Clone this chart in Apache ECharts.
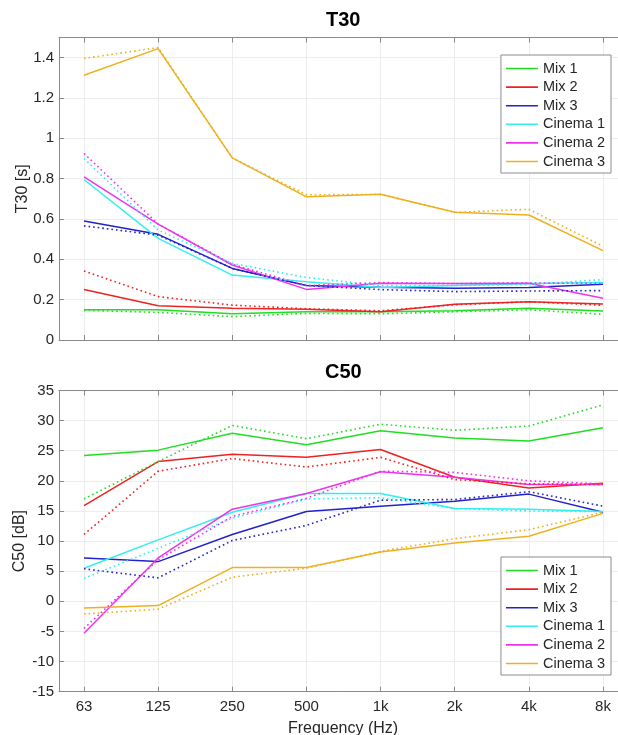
<!DOCTYPE html>
<html>
<head>
<meta charset="utf-8">
<script src="https://cdn.jsdelivr.net/npm/echarts@6/dist/echarts.min.js"></script>
<style>
html,body{margin:0;padding:0;background:#fff;}
#chart{width:618px;height:735px;}
</style>
</head>
<body>
<div id="chart"></div>
<script>
// ---- data ----
const freqLabels = ['63', '125', '250', '500', '1k', '2k', '4k', '8k'];
const seriesNames = ['Mix 1', 'Mix 2', 'Mix 3', 'Cinema 1', 'Cinema 2', 'Cinema 3'];
const seriesColors = ['#22dd22', '#ee2222', '#2222cc', '#33eeee', '#ee33ee', '#EDB120'];

// T30 [s] – solid lines
const t30Mix1 = [0.150, 0.150, 0.130, 0.140, 0.140, 0.145, 0.157, 0.144];
const t30Mix2 = [0.250, 0.170, 0.157, 0.152, 0.140, 0.177, 0.190, 0.178];
const t30Mix3 = [0.590, 0.524, 0.355, 0.270, 0.261, 0.257, 0.260, 0.277];
const t30Cin1 = [0.796, 0.504, 0.322, 0.289, 0.260, 0.270, 0.280, 0.285];
const t30Cin2 = [0.809, 0.575, 0.372, 0.251, 0.281, 0.280, 0.281, 0.207];
const t30Cin3 = [1.313, 1.445, 0.903, 0.710, 0.723, 0.633, 0.620, 0.443];
// T30 [s] – dotted lines
const t30Mix1b = [0.147, 0.137, 0.116, 0.132, 0.130, 0.140, 0.150, 0.127];
const t30Mix2b = [0.342, 0.215, 0.173, 0.155, 0.145, 0.175, 0.190, 0.172];
const t30Mix3b = [0.566, 0.520, 0.355, 0.270, 0.250, 0.240, 0.243, 0.245];
const t30Cin1b = [0.900, 0.545, 0.380, 0.310, 0.270, 0.270, 0.275, 0.300];
const t30Cin2b = [0.925, 0.575, 0.375, 0.270, 0.285, 0.280, 0.283, 0.280];
const t30Cin3b = [1.396, 1.450, 0.903, 0.720, 0.722, 0.633, 0.648, 0.465];

// C50 [dB] – solid lines
const c50Mix1 = [24.2, 25.1, 27.9, 26.0, 28.3, 27.1, 26.6, 28.8];
const c50Mix2 = [15.9, 23.2, 24.4, 23.9, 25.2, 20.6, 18.8, 19.6];
const c50Mix3 = [7.2, 6.6, 11.1, 14.9, 15.8, 16.6, 17.8, 14.8];
const c50Cin1 = [5.5, 10.2, 14.8, 17.9, 17.9, 15.4, 15.3, 14.9];
const c50Cin2 = [-5.3, 7.2, 15.3, 17.9, 21.5, 20.6, 19.4, 19.4];
const c50Cin3 = [-1.1, -0.7, 5.6, 5.6, 8.2, 9.7, 10.8, 14.6];
// C50 [dB] – dotted lines
const c50Mix1b = [17.0, 23.2, 29.2, 27.0, 29.4, 28.4, 29.1, 32.6];
const c50Mix2b = [11.1, 21.6, 23.7, 22.3, 23.9, 20.2, 19.5, 19.4];
const c50Mix3b = [5.4, 3.9, 10.1, 12.6, 16.8, 16.9, 18.2, 15.8];
const c50Cin1b = [3.8, 8.8, 13.8, 17.0, 17.2, 15.4, 15.0, 14.9];
const c50Cin2b = [-4.5, 6.9, 14.1, 17.1, 21.6, 21.4, 20.0, 19.5];
const c50Cin3b = [-2.1, -1.3, 4.0, 5.5, 8.3, 10.4, 11.9, 14.8];

const t30Solid = [t30Mix1, t30Mix2, t30Mix3, t30Cin1, t30Cin2, t30Cin3];
const t30Dotted = [t30Mix1b, t30Mix2b, t30Mix3b, t30Cin1b, t30Cin2b, t30Cin3b];
const c50Solid = [c50Mix1, c50Mix2, c50Mix3, c50Cin1, c50Cin2, c50Cin3];
const c50Dotted = [c50Mix1b, c50Mix2b, c50Mix3b, c50Cin1b, c50Cin2b, c50Cin3b];

// ---- chart ----
const FONT = '"Liberation Sans", Arial, Helvetica, sans-serif';
const AXIS_COLOR = '#8a8a8a';
const TEXT_COLOR = '#262626';
const GRID_COLOR = '#ececec';
const X_MIN = -0.337, X_MAX = 7.324;

const chart = echarts.init(document.getElementById('chart'), null, {renderer: 'canvas'});

function xAxisBottom(gridIndex, showLabels) {
  return {
    type: 'value', gridIndex, position: 'bottom', min: X_MIN, max: X_MAX,
    splitNumber: 8, minInterval: 1, maxInterval: 1,
    axisLine: {show: true, onZero: false, lineStyle: {color: AXIS_COLOR, width: 1}},
    axisTick: {show: true, inside: true, length: 5, lineStyle: {color: AXIS_COLOR}},
    axisLabel: {
      show: showLabels, margin: 8, fontSize: 15, color: TEXT_COLOR, fontFamily: FONT,
      formatter: v => (Number.isInteger(v) && v >= 0 && v < freqLabels.length) ? freqLabels[v] : ''
    },
    splitLine: {show: true, lineStyle: {color: GRID_COLOR, width: 1}},
    name: showLabels ? 'Frequency (Hz)' : '',
    nameLocation: 'middle', nameGap: 29, nameMoveOverlap: false,
    nameTextStyle: {fontSize: 16, color: TEXT_COLOR, fontFamily: FONT}
  };
}
function xAxisTop(gridIndex) {
  return {
    type: 'value', gridIndex, position: 'top', min: X_MIN, max: X_MAX,
    splitNumber: 8, minInterval: 1, maxInterval: 1,
    axisLine: {show: true, onZero: false, lineStyle: {color: AXIS_COLOR, width: 1}},
    axisTick: {show: true, inside: true, length: 5, lineStyle: {color: AXIS_COLOR}},
    axisLabel: {show: false},
    splitLine: {show: false}
  };
}
function yAxis(gridIndex, min, max, interval, name, nameGap, fmt) {
  return {
    type: 'value', gridIndex, min, max, interval,
    axisLine: {show: true, onZero: false, lineStyle: {color: AXIS_COLOR, width: 1}},
    axisTick: {show: true, inside: true, length: 5, lineStyle: {color: AXIS_COLOR}},
    axisLabel: {margin: 5, fontSize: 15, color: TEXT_COLOR, fontFamily: FONT, formatter: fmt},
    splitLine: {show: true, lineStyle: {color: GRID_COLOR, width: 1}},
    name, nameLocation: 'middle', nameGap, nameRotate: 90, nameMoveOverlap: false,
    nameTextStyle: {fontSize: 16, color: TEXT_COLOR, fontFamily: FONT}
  };
}

function legend(top) {
  return {
    data: seriesNames.slice(), orient: 'vertical', right: 7, top,
    icon: 'rect', itemWidth: 32, itemHeight: 1.6, itemGap: 3.6, align: 'left',
    padding: [6, 6, 4, 5],
    borderColor: '#8c8c8c', borderWidth: 1, backgroundColor: '#ffffff',
    selectedMode: false,
    textStyle: {fontSize: 14.5, color: TEXT_COLOR, fontFamily: FONT, lineHeight: 14.8}
  };
}

const series = [];
function addSeries(solidArr, dottedArr, xIdx, yIdx) {
  seriesNames.forEach((nm, i) => {
    series.push({
      name: nm, type: 'line', xAxisIndex: xIdx, yAxisIndex: yIdx,
      data: solidArr[i].map((v, k) => [k, v]),
      symbol: 'none', silent: true, animation: false,
      lineStyle: {color: seriesColors[i], width: 1.5, type: 'solid'},
      itemStyle: {color: seriesColors[i]}
    });
  });
  seriesNames.forEach((nm, i) => {
    series.push({
      name: nm + ' (dotted)', type: 'line', xAxisIndex: xIdx, yAxisIndex: yIdx,
      data: dottedArr[i].map((v, k) => [k, v]),
      symbol: 'none', silent: true, animation: false,
      lineStyle: {color: seriesColors[i], width: 1.6, type: [1.6, 3]},
      itemStyle: {color: seriesColors[i]}
    });
  });
}
addSeries(t30Solid, t30Dotted, 0, 0);
addSeries(c50Solid, c50Dotted, 2, 1);

chart.setOption({
  animation: false,
  backgroundColor: '#ffffff',
  title: [
    {text: 'T30', left: 321, top: 5, textStyle: {fontSize: 20, fontWeight: 'bold', color: '#000', fontFamily: FONT}},
    {text: 'C50', left: 320, top: 357, textStyle: {fontSize: 20, fontWeight: 'bold', color: '#000', fontFamily: FONT}}
  ],
  grid: [
    {left: 59, top: 37.5, width: 568, height: 302.5, containLabel: false, outerBoundsMode: 'none'},
    {left: 59, top: 390.5, width: 568, height: 301.2, containLabel: false, outerBoundsMode: 'none'}
  ],
  xAxis: [xAxisBottom(0, false), xAxisTop(0), xAxisBottom(1, true), xAxisTop(1)],
  yAxis: [
    yAxis(0, 0, 1.5, 0.2, 'T30 [s]', 28, v => v > 1.45 ? '' : String(+v.toFixed(1))),
    yAxis(1, -15, 35, 5, 'C50 [dB]', 31, v => String(v))
  ],
  legend: [legend(55), legend(557)],
  series
});
</script>
</body>
</html>
